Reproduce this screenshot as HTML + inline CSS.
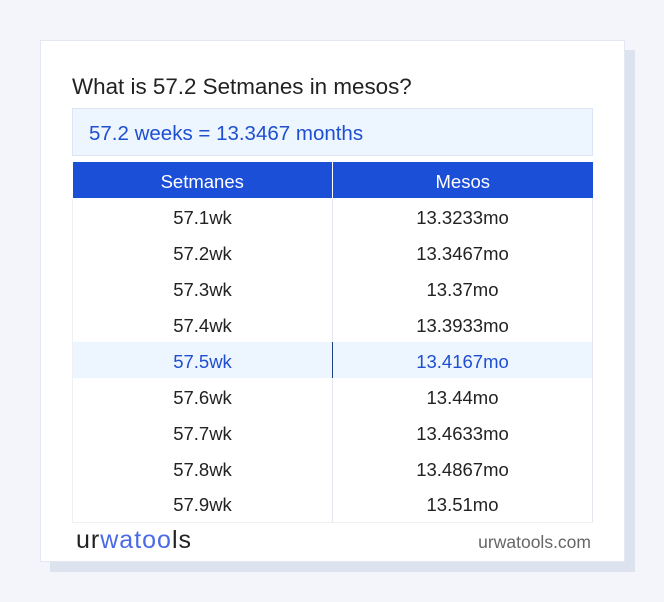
<!DOCTYPE html>
<html><head><style>
*{margin:0;padding:0;box-sizing:border-box}
body{width:664px;height:602px;background:#f3f5fa;font-family:"Liberation Sans","DejaVu Sans",sans-serif;position:relative;overflow:hidden}
.shadow{position:absolute;left:50px;top:50px;width:585px;height:522px;background:#dce3ef}
.card{position:absolute;left:40px;top:40px;width:585px;height:522px;background:#fff;border:1px solid #e3e8f2}
.title{position:absolute;left:72px;top:74px;font-size:22.4px;color:#222}
.res{position:absolute;left:72px;top:108px;width:521px;height:48px;background:#edf5fe;border:1px solid #dbe6f5;color:#1e4fd0;font-size:20.5px;padding:13px 0 0 16px}
table{position:absolute;left:72px;top:162px;width:521px;border-collapse:collapse;font-size:18.5px;color:#222}
th{background:#1c4fd8;color:#fff;font-weight:normal;height:36px;width:50%;padding-top:3px}
th:first-child{border-right:1px solid #fff}
td{height:36px;text-align:center;border-right:1px solid #e3e6ec;padding-top:3px}
td:first-child{border-left:1px solid #eef0f3}
tr:last-child td{border-bottom:1px solid #eef0f3}
tr.hl td{background:#edf5fe;color:#1e4fd0}
tr.hl td:first-child{border-right:1px solid #1e3f8a}
.logo{position:absolute;left:76px;top:526px;font-size:25px;color:#222;letter-spacing:1px}
.logo span{color:#4a6ae8}
.url{position:absolute;right:73px;top:532px;font-size:17.5px;color:#666}
</style></head><body>
<div class="shadow"></div>
<div class="card"></div>
<div class="title">What is 57.2 Setmanes in mesos?</div>
<div class="res">57.2 weeks = 13.3467 months</div>
<table>
<tr><th>Setmanes</th><th>Mesos</th></tr>
<tr><td>57.1wk</td><td>13.3233mo</td></tr>
<tr><td>57.2wk</td><td>13.3467mo</td></tr>
<tr><td>57.3wk</td><td>13.37mo</td></tr>
<tr><td>57.4wk</td><td>13.3933mo</td></tr>
<tr class="hl"><td>57.5wk</td><td>13.4167mo</td></tr>
<tr><td>57.6wk</td><td>13.44mo</td></tr>
<tr><td>57.7wk</td><td>13.4633mo</td></tr>
<tr><td>57.8wk</td><td>13.4867mo</td></tr>
<tr><td>57.9wk</td><td>13.51mo</td></tr>
</table>
<div class="logo">ur<span>wat</span><span>oo</span>ls</div>
<div class="url">urwatools.com</div>
</body></html>
